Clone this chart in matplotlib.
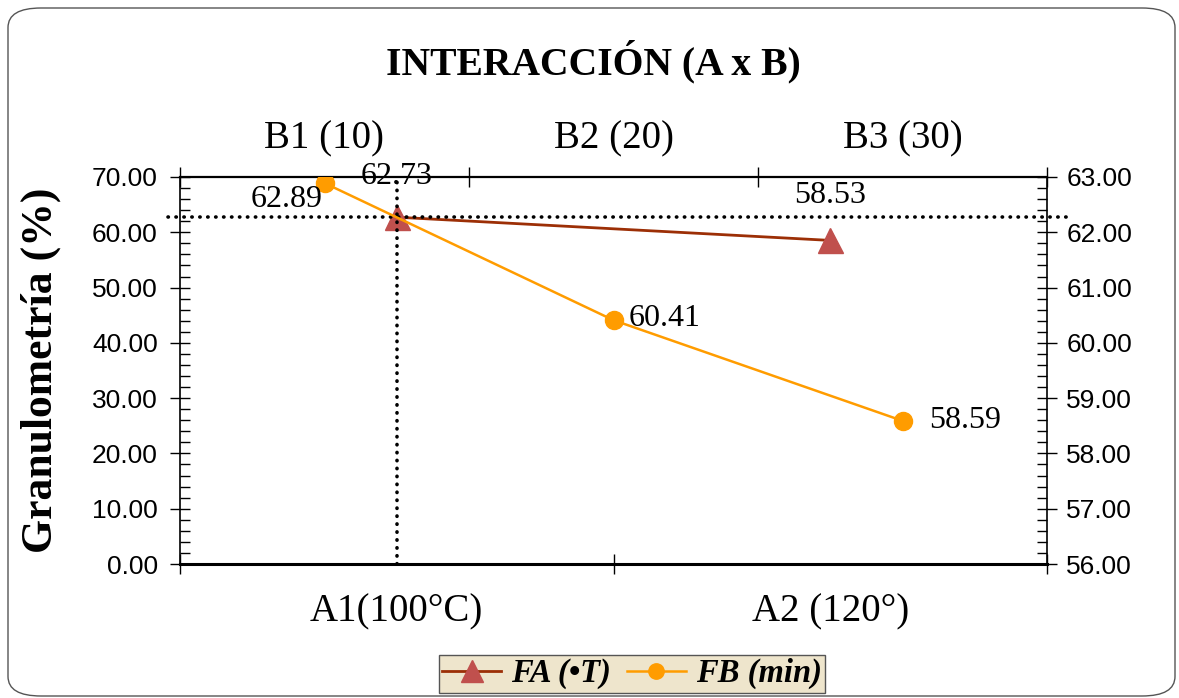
import matplotlib
matplotlib.use("Agg")
import matplotlib.pyplot as plt
from matplotlib.patches import FancyBboxPatch
from matplotlib.ticker import MultipleLocator, FixedLocator

# ---- data ----
a_categories = ["A1(100°C)", "A2 (120°)"]
b_categories = ["B1 (10)", "B2 (20)", "B3 (30)"]
fa_values = [62.73, 58.53]
fb_values = [62.89, 60.41, 58.59]
fa_label = "FA (•T)"
fb_label = "FB (min)"
title = "INTERACCIÓN (A x B)"
ylabel = "Granulometría (%)"

SERIF = "Liberation Serif"
SANS = "Liberation Sans"

W, H = 1179, 698
fig = plt.figure(figsize=(W / 100, H / 100), dpi=100)

# outer rounded frame
frame = FancyBboxPatch((8 / W, 2 / H), (1175 - 8) / W, (696 - 8) / H,
                       boxstyle="round,pad=0,rounding_size=0.028",
                       transform=fig.transFigure, fill=False,
                       edgecolor="#555555", linewidth=1.0, clip_on=False)
fig.patches.append(frame)

left, right, top, bottom = 180 / W, 1047 / W, 1 - 177 / H, 1 - 564 / H
pos = [left, bottom, right - left, top - bottom]
ax = fig.add_axes(pos)
ax2 = fig.add_axes(pos)
ax2.patch.set_visible(False)

FA_LINE = "#9c2f06"
FA_MARK = "#c0504d"
FB_COL = "#ff9c00"

# primary: A categories on bottom, left axis 0..70
xa = list(range(len(a_categories)))
ax.plot(xa, fa_values, color=FA_LINE, lw=2.0, marker="^", ms=18,
        markerfacecolor=FA_MARK, markeredgecolor=FA_MARK, zorder=3, label=fa_label)
ax.set_xlim(-0.5, len(a_categories) - 0.5)
ax.set_ylim(0, 70)
ax.xaxis.set_major_locator(FixedLocator([i - 0.5 for i in range(len(a_categories) + 1)]))
ax.xaxis.set_major_formatter(plt.NullFormatter())
ax.xaxis.set_minor_locator(FixedLocator(xa))
ax.set_xticklabels(a_categories, minor=True)
ax.tick_params(axis="x", which="minor", length=0, pad=21, labelsize=28)
ax.tick_params(axis="x", which="major", length=14, direction="inout", width=1)
ax.yaxis.set_major_locator(MultipleLocator(10))
ax.yaxis.set_minor_locator(MultipleLocator(2))
ax.yaxis.set_major_formatter(plt.FormatStrFormatter("%.2f"))
ax.tick_params(axis="y", which="major", length=14, direction="inout", width=1,
               labelsize=19, pad=9)
ax.tick_params(axis="y", which="minor", length=7, direction="in", width=1)
for lbl in ax.get_yticklabels():
    lbl.set_family(SANS)
for lbl in ax.get_xticklabels(minor=True):
    lbl.set_family(SERIF)
for s in ["top", "right"]:
    ax.spines[s].set_visible(False)
ax.spines["bottom"].set_linewidth(2.2)
ax.spines["left"].set_linewidth(1.2)
ax.set_ylabel(ylabel, fontsize=31.5, fontweight="bold", family=SERIF, labelpad=22)

# secondary: B categories on top, right axis 56..63
xb = list(range(len(b_categories)))
ax2.plot(xb, fb_values, color=FB_COL, lw=1.8, marker="o", ms=13,
         markerfacecolor=FB_COL, markeredgecolor=FB_COL, zorder=3, label=fb_label)
ax2.set_xlim(-0.5, len(b_categories) - 0.5)
ax2.set_ylim(56, 63)
ax2.xaxis.tick_top()
ax2.yaxis.tick_right()
ax2.xaxis.set_major_locator(FixedLocator([i - 0.5 for i in range(len(b_categories) + 1)]))
ax2.xaxis.set_major_formatter(plt.NullFormatter())
ax2.xaxis.set_minor_locator(FixedLocator(xb))
ax2.set_xticklabels(b_categories, minor=True)
ax2.tick_params(axis="x", which="minor", length=0, pad=14, labelsize=28,
                top=True, bottom=False, labeltop=True, labelbottom=False)
ax2.tick_params(axis="x", which="major", length=14, direction="inout", width=1,
                top=True, bottom=False)
ax2.yaxis.set_major_locator(MultipleLocator(1))
ax2.yaxis.set_minor_locator(MultipleLocator(0.2))
ax2.yaxis.set_major_formatter(plt.FormatStrFormatter("%.2f"))
ax2.tick_params(axis="y", which="major", length=14, direction="inout", width=1,
                labelsize=19, pad=7, right=True, left=False)
ax2.tick_params(axis="y", which="minor", length=7, direction="in", width=1,
                right=True, left=False)
for lbl in ax2.get_yticklabels():
    lbl.set_family(SANS)
for lbl in ax2.get_xticklabels(minor=True):
    lbl.set_family(SERIF)
ax2.spines["left"].set_visible(False)
ax2.spines["bottom"].set_visible(False)
ax2.spines["top"].set_linewidth(1.6)
ax2.spines["right"].set_linewidth(1.2)

# dotted reference lines through the FA A1 point
dot = dict(color="black", lw=2.6, linestyle=(0, (0.1, 2.1)), dash_capstyle="round",
           zorder=4, clip_on=False)
ax.plot([-0.014, 1.029], [fa_values[0], fa_values[0]],
        transform=ax.get_yaxis_transform(), **dot)
ax.plot([xa[0], xa[0]], [0, 70], **dot)

# data labels
lab = dict(fontsize=23, family=SERIF)
ax.annotate(f"{fa_values[0]:.2f}", (xa[0], fa_values[0]), xytext=(0, 29),
            textcoords="offset points", ha="center", va="center", **lab)
ax.annotate(f"{fa_values[1]:.2f}", (xa[1], fa_values[1]), xytext=(0, 32),
            textcoords="offset points", ha="center", va="center", **lab)
ax2.annotate(f"{fb_values[0]:.2f}", (xb[0], fb_values[0]), xytext=(-27, -12),
             textcoords="offset points", ha="center", va="center", **lab)
ax2.annotate(f"{fb_values[1]:.2f}", (xb[1], fb_values[1]), xytext=(11, 1),
             textcoords="offset points", ha="left", va="center", **lab)
ax2.annotate(f"{fb_values[2]:.2f}", (xb[2], fb_values[2]), xytext=(19, 0),
             textcoords="offset points", ha="left", va="center", **lab)

fig.text(593 / W, 1 - 62 / H, title, ha="center", va="center", fontsize=28.5,
         fontweight="bold", family=SERIF)

h1, l1 = ax.get_legend_handles_labels()
h2, l2 = ax2.get_legend_handles_labels()
leg = fig.legend(h1 + h2, l1 + l2, loc="upper center", ncol=2,
                 bbox_to_anchor=(632 / W, 1 - 655 / H), borderaxespad=0,
                 prop=dict(family=SERIF, weight="bold", style="italic", size=23.5),
                 frameon=True, fancybox=False, handlelength=1.8, handletextpad=0.3,
                 columnspacing=0.5, borderpad=0.1, markerscale=0.85)
leg.get_frame().set_facecolor("#eee5cc")
leg.get_frame().set_edgecolor("#555555")
leg.get_frame().set_linewidth(1.0)
leg.get_frame().set_alpha(1)

fig.savefig("out.png", dpi=100)
